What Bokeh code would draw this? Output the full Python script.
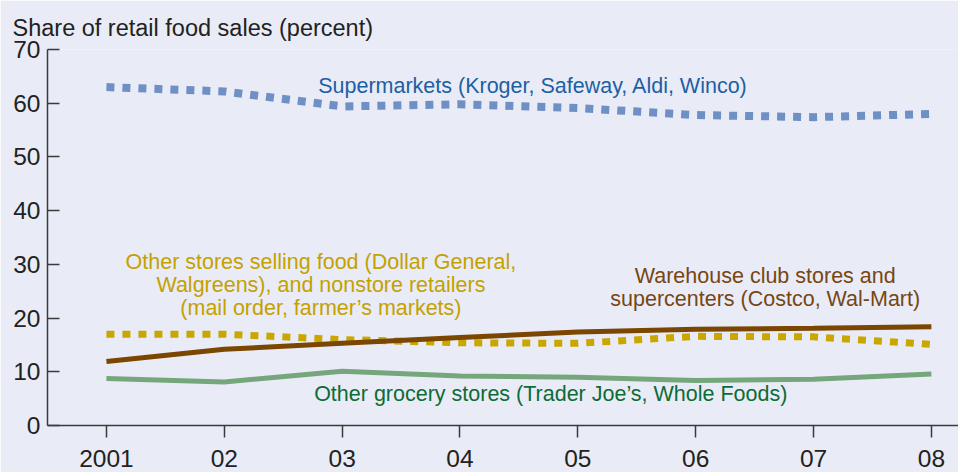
from bokeh.plotting import figure
from bokeh.models import Label, FixedTicker, Range1d
from bokeh.embed import file_html
from bokeh.resources import INLINE

years = [2001, 2002, 2003, 2004, 2005, 2006, 2007, 2008]
year_labels = ["2001", "02", "03", "04", "05", "06", "07", "08"]
y_ticks = [0, 10, 20, 30, 40, 50, 60, 70]

supermarkets = [63.0, 62.2, 59.4, 59.8, 59.1, 57.8, 57.4, 58.0]
other_stores = [17.0, 17.0, 16.0, 15.4, 15.3, 16.6, 16.5, 15.1]
warehouse = [11.9, 14.2, 15.3, 16.4, 17.4, 17.9, 18.1, 18.4]
grocery = [8.75, 8.1, 10.1, 9.2, 9.0, 8.4, 8.6, 9.6]

BG = "#e9ecf6"
FONT = "Liberation Sans"

p = figure(width=958, height=472, output_backend="svg", toolbar_location=None,
           x_range=Range1d(2000.5, 2008.23), y_range=Range1d(0, 70),
           min_border_left=47, min_border_right=0, min_border_top=49, min_border_bottom=47,
           background_fill_color=BG, border_fill_color=BG)
p.outline_line_color = None
p.xgrid.visible = False
p.ygrid.visible = False

p.title.text = "Share of retail food sales (percent)"
p.title.text_font = FONT
p.title.text_font_size = "23.5px"
p.title.text_font_style = "normal"
p.title.text_color = "#222222"
p.title.align = "left"
p.title.offset = -35
p.title.standoff = 18

# x axis
p.xaxis.ticker = FixedTicker(ticks=years)
p.xaxis.major_label_overrides = {y: l for y, l in zip(years, year_labels)}
p.xaxis.major_tick_in = 0
p.xaxis.major_tick_out = 12
p.xaxis.minor_tick_line_color = None
p.xaxis.major_label_standoff = 12
p.xaxis.axis_line_color = "#3a3a3a"
p.xaxis.axis_line_width = 1.5
p.xaxis.major_tick_line_color = "#3a3a3a"
p.xaxis.major_tick_line_width = 1.5
p.xaxis.major_label_text_font = FONT
p.xaxis.major_label_text_font_size = "24.5px"
p.xaxis.major_label_text_color = "#222222"

# y axis
p.yaxis.ticker = FixedTicker(ticks=y_ticks)
p.yaxis.major_tick_in = 12
p.yaxis.major_tick_out = 0
p.yaxis.minor_tick_line_color = None
p.yaxis.major_label_standoff = 7
p.yaxis.axis_line_color = "#3a3a3a"
p.yaxis.axis_line_width = 1.5
p.yaxis.major_tick_line_color = "#3a3a3a"
p.yaxis.major_tick_line_width = 1.5
p.yaxis.major_label_text_font = FONT
p.yaxis.major_label_text_font_size = "24.5px"
p.yaxis.major_label_text_color = "#222222"

# series
p.line(years, supermarkets, line_color="#6f90c4", line_width=8, line_dash="8 8", line_cap="butt")
p.line(years, other_stores, line_color="#c9a700", line_width=7, line_dash="8 8", line_cap="butt")
p.line(years, warehouse, line_color="#7a4600", line_width=5)
p.line(years, grocery, line_color="#76a67b", line_width=5)

def lab(x, y, t, c, size="21.5px", align="center"):
    p.add_layout(Label(x=x, y=y, text=t, text_color=c, text_font=FONT, text_font_size=size,
                       text_align=align, text_baseline="middle"))

lab(2004.62, 63.2, "Supermarkets (Kroger, Safeway, Aldi, Winco)", "#1d5fa3")
lab(2002.82, 30.4, "Other stores selling food (Dollar General,", "#c4a100")
lab(2002.82, 26.1, "Walgreens), and nonstore retailers", "#c4a100")
lab(2002.82, 21.8, "(mail order, farmer\u2019s markets)", "#c4a100")
lab(2006.59, 27.8, "Warehouse club stores and", "#774613")
lab(2006.59, 23.5, "supercenters (Costco, Wal-Mart)", "#774613")
lab(2004.77, 5.83, "Other grocery stores (Trader Joe\u2019s, Whole Foods)", "#0d6b35")

open("out.html", "w").write(file_html(p, INLINE))
